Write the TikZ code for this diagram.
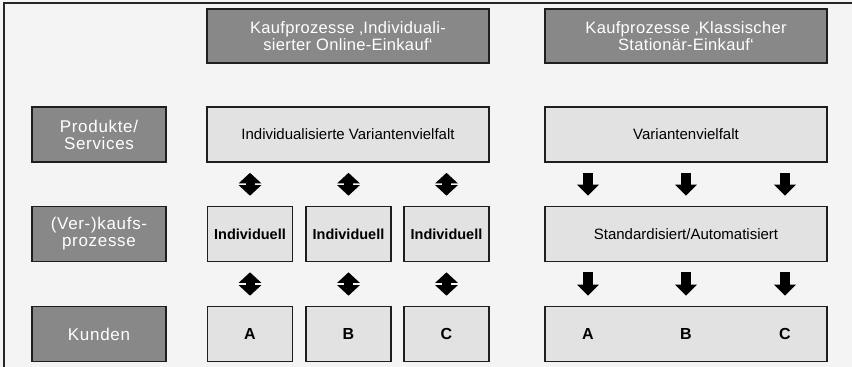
\documentclass[tikz,border=0pt]{standalone}
\usepackage{fontspec}
\setmainfont{Liberation Sans}
\newfontfamily\headsans[LetterSpace=2]{Liberation Sans}
\newfontfamily\labelsans[LetterSpace=4]{Liberation Sans}
\usetikzlibrary{arrows.meta}
\definecolor{bgcol}{HTML}{F4F4F4}
\definecolor{darkfill}{HTML}{888888}
\definecolor{lightfill}{HTML}{E2E2E2}
\definecolor{edge}{HTML}{1E1E1E}
\begin{document}
\begin{tikzpicture}[x=1pt,y=1pt,
  box/.style={draw=edge,line width=1.6pt,rectangle,inner sep=0pt,align=center},
  headbox/.style={box,fill=darkfill,text=white,minimum width=282pt,minimum height=54pt,
    font=\headsans\fontsize{16.5}{14}\selectfont},
  labelbox/.style={box,fill=darkfill,text=white,minimum width=134pt,minimum height=55pt,
    font=\labelsans\fontsize{17}{17}\selectfont},
  widebox/.style={box,fill=lightfill,minimum width=282pt,minimum height=55pt,
    font=\fontsize{15}{16}\selectfont},
  smallbox/.style={box,fill=lightfill,minimum width=85pt,minimum height=55pt,
    font=\bfseries\fontsize{14.5}{16}\selectfont},
  letter/.style={font=\bfseries\fontsize{16}{16}\selectfont,inner sep=0pt},
  twoway/.style={line width=9pt,color=black,shorten <=10pt,shorten >=10pt,
    {Triangle[width=22pt,length=10.5pt]}-{Triangle[width=22pt,length=10.5pt]}},
  oneway/.style={line width=10pt,color=black,shorten <=10pt,shorten >=10pt,
    -{Triangle[width=21pt,length=11pt]}}]
  % canvas and frame
  \useasboundingbox (0,0) rectangle (852,-367);
  \fill[bgcol] (0,0) rectangle (852,-367);
  \draw[line width=2pt,color=black!85] (3.5,-367) -- (3.5,-2.5) -- (852,-2.5);

  % column headers
  \node[headbox] (h1) at (348,-36) {Kaufprozesse ‚Individuali-\\sierter Online-Einkauf‘};
  \node[headbox] (h2) at (686,-36) {Kaufprozesse ‚Klassischer\\Stationär-Einkauf‘};

  % row labels
  \node[labelbox] (l1) at (99,-134.5) {Produkte/\\Services};
  \node[labelbox] (l2) at (99,-234) {(Ver-)kaufs-\\prozesse};
  \node[labelbox] (l3) at (99,-334) {Kunden};

  % products
  \node[widebox] (p1) at (348,-134.5) {Individualisierte Variantenvielfalt};
  \node[widebox] (p2) at (686,-134.5) {Variantenvielfalt};

  % sales processes
  \node[smallbox] (i1) at (250,-234) {Individuell};
  \node[smallbox] (i2) at (348.5,-234) {Individuell};
  \node[smallbox] (i3) at (446.5,-234) {Individuell};
  \node[widebox] (s2) at (686,-234) {Standardisiert/Automatisiert};

  % customers
  \node[smallbox,font=\bfseries\fontsize{16}{16}\selectfont] (k1) at (250,-334) {A};
  \node[smallbox,font=\bfseries\fontsize{16}{16}\selectfont] (k2) at (348.5,-334) {B};
  \node[smallbox,font=\bfseries\fontsize{16}{16}\selectfont] (k3) at (446.5,-334) {C};
  \node[widebox] (k4) at (686,-334) {};
  \node[letter] (ka) at (588,-334) {A};
  \node[letter] (kb) at (686,-334) {B};
  \node[letter] (kc) at (785,-334) {C};

  % two-way arrows, individual purchase
  \draw[twoway] (i1.north |- p1.south) -- (i1.north);
  \draw[twoway] (i2.north |- p1.south) -- (i2.north);
  \draw[twoway] (i3.north |- p1.south) -- (i3.north);
  \draw[twoway] (i1.south) -- (k1.north);
  \draw[twoway] (i2.south) -- (k2.north);
  \draw[twoway] (i3.south) -- (k3.north);

  % one-way arrows, classic purchase
  \draw[oneway] (ka |- p2.south) -- (ka |- s2.north);
  \draw[oneway] (kb |- p2.south) -- (kb |- s2.north);
  \draw[oneway] (kc |- p2.south) -- (kc |- s2.north);
  \draw[oneway] (ka |- s2.south) -- (ka |- k4.north);
  \draw[oneway] (kb |- s2.south) -- (kb |- k4.north);
  \draw[oneway] (kc |- s2.south) -- (kc |- k4.north);
\end{tikzpicture}
\end{document}
